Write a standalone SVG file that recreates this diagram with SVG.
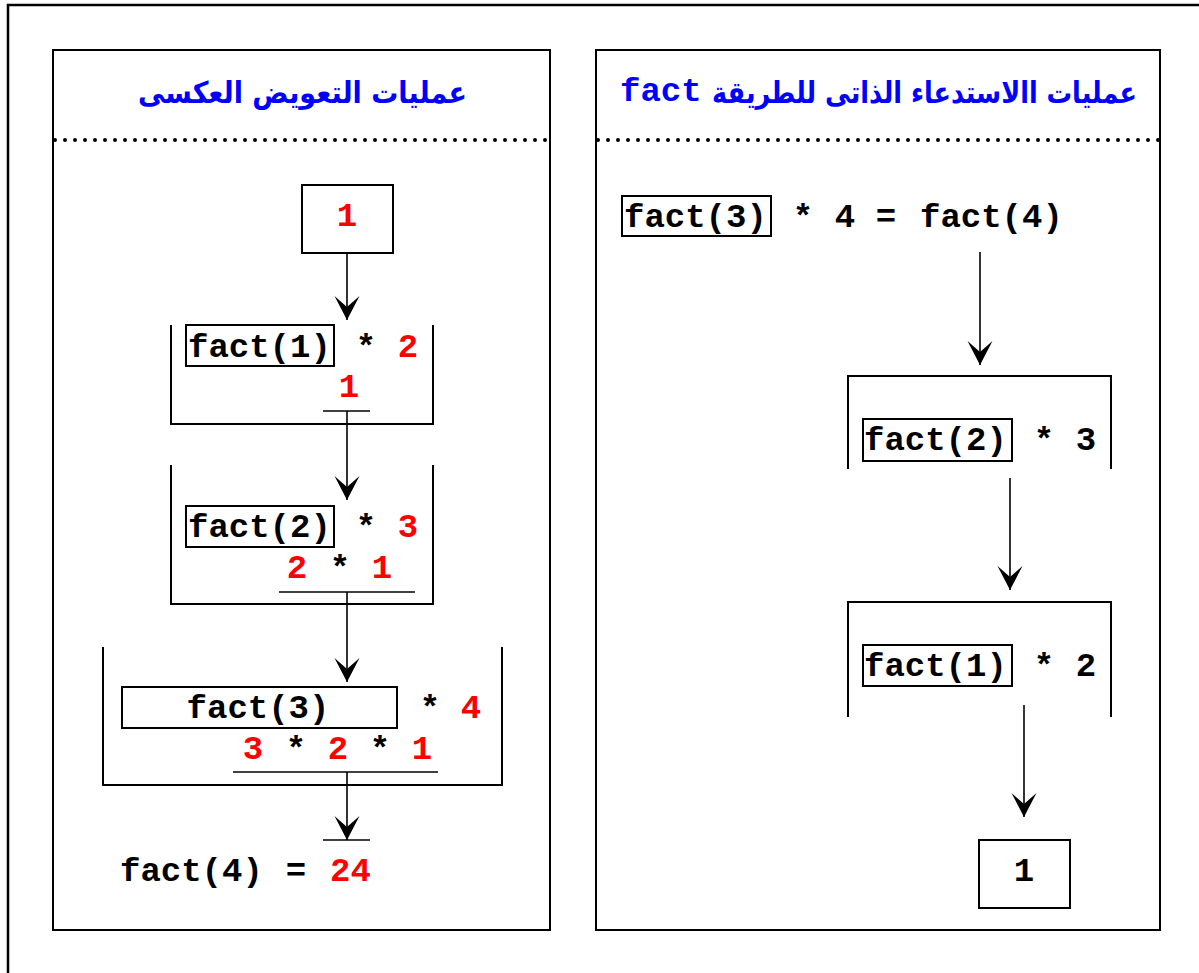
<svg xmlns="http://www.w3.org/2000/svg" width="1199" height="973" viewBox="0 0 1199 973">
  <style>
    .frame { fill: none; stroke: #000; stroke-width: 2.5; }
    .panel { fill: none; stroke: #000; stroke-width: 2; }
    .box { fill: #fff; stroke: #000; stroke-width: 2; }
    .brk { fill: none; stroke: #000; stroke-width: 2; }
    .rule { stroke: #000; stroke-width: 1.6; }
    .dots { stroke: #000; stroke-width: 4; stroke-linecap: round; stroke-dasharray: 0 10; }
    .flow { stroke: #000; stroke-width: 1.6; fill: none; marker-end: url(#head); }
    .title { font-family: "DejaVu Sans", "Noto Sans", sans-serif; font-weight: bold; font-size: 30px; fill: #0000ff; }
    .code { font-family: "Liberation Mono", "Courier New", monospace; font-weight: bold; font-size: 34px; fill: #000; }
    .red { fill: #ff0000; }
    .blue { fill: #0000ff; }
    .mid { text-anchor: middle; }
  </style>
  <defs>
    <!-- notched arrowhead, tip at the end of the line -->
    <marker id="head" markerUnits="userSpaceOnUse" markerWidth="30" markerHeight="30" viewBox="-27 -15 30 30" refX="0" refY="0" orient="auto">
      <path d="M0,0 L-24,-12.5 L-13,0 L-24,12.5 Z" fill="#000"/>
    </marker>
  </defs>

  <rect width="1199" height="973" fill="#fff"/>
  <rect class="frame" x="8" y="5" width="1300" height="1100"/>

  <!-- left panel: back substitution -->
  <g id="panel-left">
    <rect class="panel" x="53" y="50" width="497" height="880"/>
    <text class="title" transform="translate(467,103) scale(0.9,1)" direction="rtl">عمليات التعويض العكسى</text>
    <line class="dots" x1="55" y1="140" x2="550" y2="140"/>
  </g>

  <g id="base-left">
    <rect class="box" x="302" y="185" width="91" height="68"/>
    <text class="code red mid" x="347" y="226">1</text>
  </g>

  <g id="step-fact1">
    <path class="brk" d="M171,325 V424 H433 V325"/>
    <rect class="box" x="186" y="325" width="148" height="41"/>
    <text class="code" x="188" y="357">fact(1)</text>
    <text class="code mid" x="366" y="357">*</text>
    <text class="code red mid" x="408" y="357">2</text>
    <text class="code red mid" x="349" y="397">1</text>
    <line class="rule" x1="323" y1="411" x2="370" y2="411"/>
  </g>

  <g id="step-fact2">
    <path class="brk" d="M171,465 V604 H433 V465"/>
    <rect class="box" x="186" y="506" width="148" height="41"/>
    <text class="code" x="188" y="537">fact(2)</text>
    <text class="code mid" x="366" y="537">*</text>
    <text class="code red mid" x="408" y="537">3</text>
    <text class="code red mid" x="297" y="578">2</text>
    <text class="code mid" x="340" y="578">*</text>
    <text class="code red mid" x="382" y="578">1</text>
    <line class="rule" x1="279" y1="592" x2="415" y2="592"/>
  </g>

  <g id="step-fact3">
    <path class="brk" d="M103,647 V785 H502 V647"/>
    <rect class="box" x="122" y="687" width="275" height="41"/>
    <text class="code mid" x="258" y="718">fact(3)</text>
    <text class="code mid" x="430" y="718">*</text>
    <text class="code red mid" x="471" y="718">4</text>
    <text class="code red mid" x="253" y="759">3</text>
    <text class="code mid" x="296" y="759">*</text>
    <text class="code red mid" x="338" y="759">2</text>
    <text class="code mid" x="380" y="759">*</text>
    <text class="code red mid" x="422" y="759">1</text>
    <line class="rule" x1="233" y1="772" x2="438" y2="772"/>
  </g>

  <g id="result-left">
    <line class="rule" x1="323" y1="840" x2="370" y2="840"/>
    <text class="code" x="120" y="881">fact(4)</text>
    <text class="code mid" x="296" y="881">=</text>
    <text class="code red" x="330" y="881">24</text>
  </g>

  <!-- right panel: recursive calls -->
  <g id="panel-right">
    <rect class="panel" x="596" y="50" width="564" height="880"/>
    <text class="title" transform="translate(1137,103) scale(0.85,1)" direction="rtl">عمليات االاستدعاء الذاتى للطريقة</text>
    <text class="code blue" x="620" y="101">fact</text>
    <line class="dots" x1="598" y1="140" x2="1160" y2="140"/>
  </g>

  <g id="call-fact4">
    <rect class="box" x="622" y="196" width="149" height="40"/>
    <text class="code" x="624" y="227">fact(3)</text>
    <text class="code mid" x="803" y="227">*</text>
    <text class="code mid" x="845" y="227">4</text>
    <text class="code mid" x="886" y="227">=</text>
    <text class="code" x="920" y="227">fact(4)</text>
  </g>

  <g id="call-fact3">
    <path class="brk" d="M848,469 V376 H1111 V469"/>
    <rect class="box" x="863" y="419" width="149" height="42"/>
    <text class="code" x="864" y="450">fact(2)</text>
    <text class="code mid" x="1044" y="450">*</text>
    <text class="code mid" x="1086" y="450">3</text>
  </g>

  <g id="call-fact2">
    <path class="brk" d="M848,717 V602 H1111 V717"/>
    <rect class="box" x="863" y="645" width="149" height="41"/>
    <text class="code" x="864" y="676">fact(1)</text>
    <text class="code mid" x="1044" y="676">*</text>
    <text class="code mid" x="1086" y="676">2</text>
  </g>

  <g id="base-right">
    <rect class="box" x="979" y="840" width="91" height="68"/>
    <text class="code mid" x="1024" y="881">1</text>
  </g>

  <!-- connectors -->
  <g id="connectors">
    <line class="flow" x1="347" y1="253" x2="347" y2="320"/>
    <line class="flow" x1="347" y1="411" x2="347" y2="500"/>
    <line class="flow" x1="347" y1="592" x2="347" y2="682"/>
    <line class="flow" x1="347" y1="772" x2="347" y2="840"/>
    <line class="flow" x1="980" y1="252" x2="980" y2="365"/>
    <line class="flow" x1="1010" y1="478" x2="1010" y2="590"/>
    <line class="flow" x1="1024" y1="705" x2="1024" y2="817"/>
  </g>
</svg>
